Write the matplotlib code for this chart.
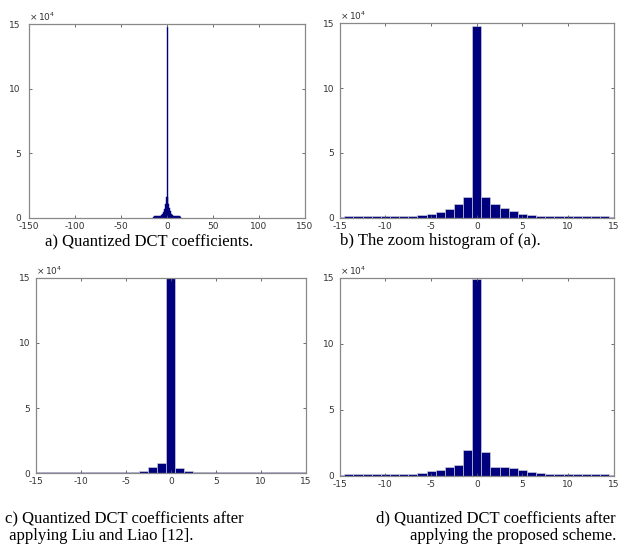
import numpy as np
import matplotlib.pyplot as plt

plt.rcParams['axes.unicode_minus'] = False

# bin centres of the zoomed histograms
coef = np.arange(-15, 16)

# counts in units of 10^4
hist_orig = [0.10, 0.12, 0.12, 0.12, 0.12, 0.13, 0.13, 0.15, 0.17, 0.23, 0.31, 0.46, 0.72, 1.10, 1.61,
             14.76,
             1.59, 1.05, 0.74, 0.51, 0.33, 0.23, 0.17, 0.15, 0.13, 0.12, 0.12, 0.12, 0.12, 0.12, 0.10]
hist_liu = [0.10, 0.10, 0.10, 0.10, 0.10, 0.10, 0.10, 0.10, 0.10, 0.10, 0.10, 0.12, 0.20, 0.46, 0.77,
            15.5,
            0.44, 0.20, 0.12, 0.10, 0.10, 0.10, 0.10, 0.10, 0.10, 0.10, 0.10, 0.10, 0.10, 0.10, 0.10]
hist_prop = [0.10, 0.12, 0.12, 0.12, 0.12, 0.12, 0.12, 0.14, 0.17, 0.25, 0.36, 0.46, 0.69, 0.81, 1.93,
             14.9,
             1.78, 0.69, 0.66, 0.63, 0.43, 0.30, 0.20, 0.16, 0.13, 0.12, 0.12, 0.12, 0.12, 0.12, 0.10]

captions = ['a) Quantized DCT coefficients.',
            'b) The zoom histogram of (a).',
            'c) Quantized DCT coefficients after\n applying Liu and Liao [12].',
            'd) Quantized DCT coefficients after\napplying the proposed scheme.']

navy = '#00007f'
fig = plt.figure(figsize=(6.2, 5.49), dpi=100)

axes = [fig.add_axes([0.047, 0.603, 0.445, 0.353]),
        fig.add_axes([0.548, 0.603, 0.442, 0.355]),
        fig.add_axes([0.058, 0.138, 0.435, 0.356]),
        fig.add_axes([0.548, 0.133, 0.442, 0.361])]


def style(ax, xlim, xticks):
    ax.set_xlim(xlim)
    ax.set_ylim(0, 15)
    ax.set_xticks(xticks)
    ax.set_yticks([0, 5, 10, 15])
    ax.tick_params(direction='in', top=True, right=True, length=2.5, width=0.6,
                   labelsize=6.5, labelcolor='#333333', color='#555555')
    ax.tick_params(axis='x', pad=3)
    ax.tick_params(axis='y', pad=4)
    for s in ax.spines.values():
        s.set_color('#888888')
        s.set_linewidth(0.9)
    ax.text(0.0, 1.005, r'$\times\,10^4$', transform=ax.transAxes, fontsize=6.5,
            color='#333333', ha='left', va='bottom')


# a) full range
ax = axes[0]
ax.bar(coef, hist_orig, width=1.0, color=navy, edgecolor=navy, linewidth=0.3)
style(ax, (-150, 150), np.arange(-150, 151, 50))
ax.tick_params(axis='y', pad=6)

# b) zoom
ax = axes[1]
ax.bar(coef, hist_orig, width=1.0, color=navy, edgecolor='#dddddd', linewidth=0.4)
style(ax, (-15, 15), np.arange(-15, 16, 5))

# c) Liu and Liao
ax = axes[2]
ax.bar(coef, hist_liu, width=1.0, color=navy, edgecolor='#dddddd', linewidth=0.4)
style(ax, (-15, 15), np.arange(-15, 16, 5))

# d) proposed
ax = axes[3]
ax.bar(coef, hist_prop, width=1.0, color=navy, edgecolor='#dddddd', linewidth=0.4)
style(ax, (-15, 15), np.arange(-15, 16, 5))

cap_kw = dict(fontsize=12, family='Liberation Serif', color='black')
fig.text(45 / 620, 1 - 241 / 549, captions[0], ha='left', va='center', **cap_kw)
fig.text(340 / 620, 1 - 241 / 549, captions[1], ha='left', va='center', **cap_kw)
fig.text(5 / 620, 1 - 527 / 549, captions[2], ha='left', va='center', linespacing=1.15, **cap_kw)
fig.text(616 / 620, 1 - 527 / 549, captions[3], ha='right', va='center', multialignment='right',
         linespacing=1.15, **cap_kw)

fig.savefig('out.png', dpi=100)
